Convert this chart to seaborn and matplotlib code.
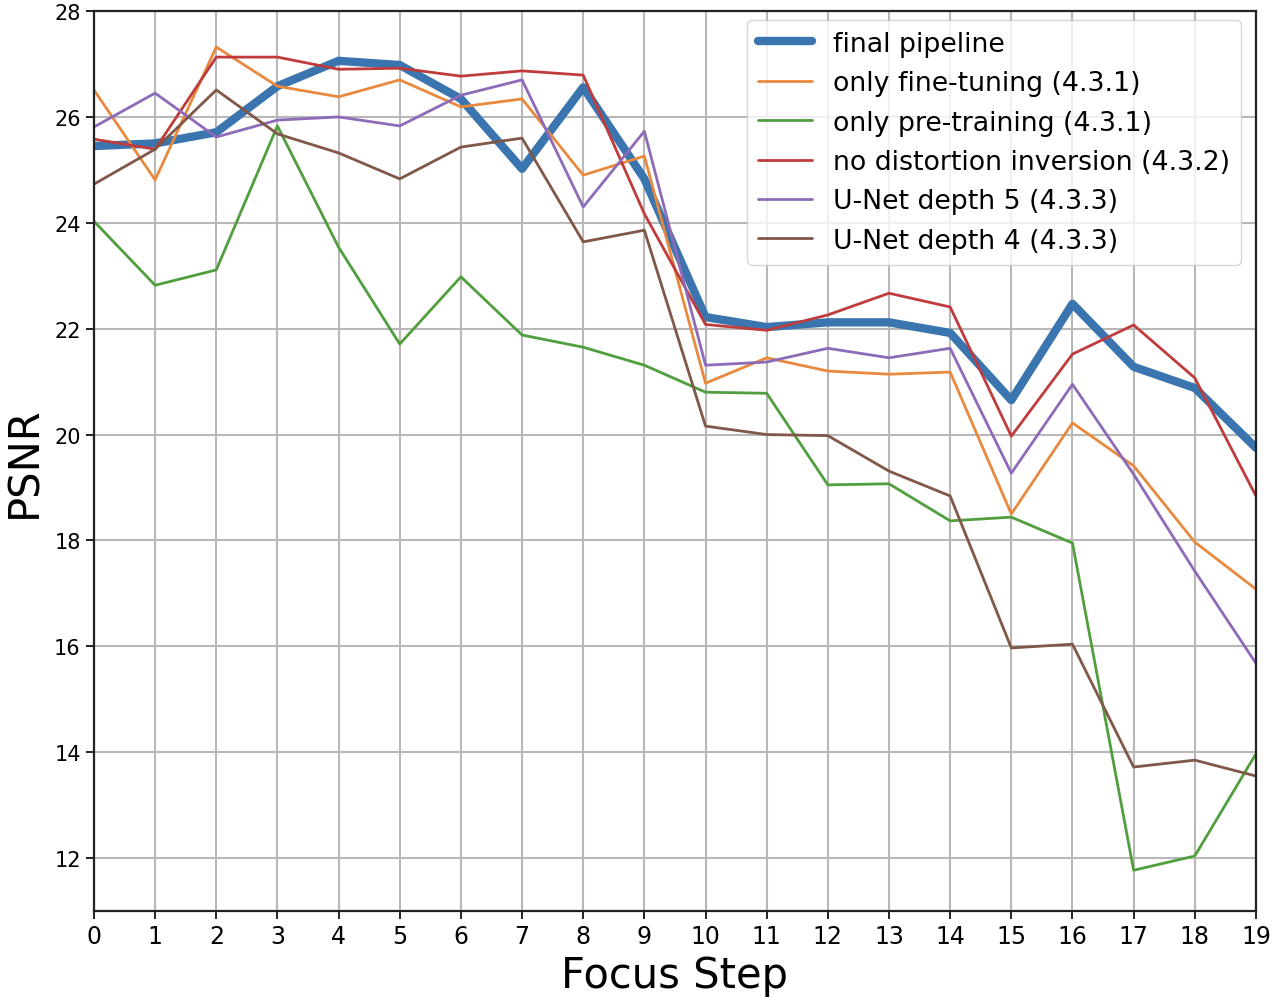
import numpy as np
import pandas as pd
import matplotlib
matplotlib.use("Agg")
import matplotlib.pyplot as plt
import seaborn as sns

steps = list(range(20))

final_pipeline = [25.45, 25.50, 25.71, 26.58, 27.06, 26.98, 26.34, 25.02, 26.56, 24.83,
                  22.22, 22.03, 22.12, 22.12, 21.92, 20.65, 22.47, 21.28, 20.88, 19.75]
only_fine_tuning = [26.51, 24.81, 27.32, 26.58, 26.38, 26.70, 26.19, 26.34, 24.90, 25.26,
                    20.97, 21.45, 21.20, 21.14, 21.18, 18.50, 20.22, 19.41, 17.97, 17.08]
only_pre_training = [24.03, 22.82, 23.11, 25.83, 23.54, 21.71, 22.98, 21.88, 21.65, 21.31,
                     20.80, 20.78, 19.05, 19.07, 18.37, 18.44, 17.95, 11.77, 12.04, 13.97]
no_distortion_inversion = [25.58, 25.39, 27.13, 27.13, 26.90, 26.92, 26.77, 26.87, 26.79, 24.17,
                           22.08, 21.97, 22.26, 22.67, 22.41, 19.97, 21.52, 22.07, 21.07, 18.84]
unet_depth5 = [25.81, 26.45, 25.62, 25.94, 26.00, 25.83, 26.41, 26.70, 24.30, 25.73,
               21.31, 21.37, 21.63, 21.45, 21.63, 19.27, 20.95, 19.25, 17.42, 15.68]
unet_depth4 = [24.73, 25.39, 26.51, 25.68, 25.32, 24.83, 25.43, 25.60, 23.64, 23.86,
               20.16, 20.00, 19.98, 19.31, 18.84, 15.97, 16.04, 13.72, 13.85, 13.55]

labels = ["final pipeline", "only fine-tuning (4.3.1)", "only pre-training (4.3.1)",
          "no distortion inversion (4.3.2)", "U-Net depth 5 (4.3.3)", "U-Net depth 4 (4.3.3)"]
series = [final_pipeline, only_fine_tuning, only_pre_training,
          no_distortion_inversion, unet_depth5, unet_depth4]
colors = ["#3a75af", "#e8893d", "#519e3e", "#c03c3c", "#8d6bb8", "#815749"]
widths = [6, 2, 2, 2, 2, 2]

sns.set_theme(style="ticks")
plt.rcParams['font.family'] = ['DejaVu Sans']
plt.rcParams['text.color'] = 'black'
plt.rcParams['axes.labelcolor'] = 'black'
plt.rcParams['xtick.labelcolor'] = 'black'
plt.rcParams['ytick.labelcolor'] = 'black'

fig = plt.figure(figsize=(12.73, 10.04), dpi=100)
ax = fig.add_axes([0.0738, 0.0916, 0.9128, 0.8964])

for lab, vals, col, lw in zip(labels, series, colors, widths):
    df = pd.DataFrame({"step": steps, "psnr": vals})
    sns.lineplot(data=df, x="step", y="psnr", ax=ax, color=col, linewidth=lw, label=lab)

ax.set_xlim(0, 19)
ax.set_ylim(11, 28)
ax.set_xticks(steps)
ax.set_yticks(list(range(12, 29, 2)))
ax.grid(True, color="#b8b8b8", linewidth=1.5)
ax.set_axisbelow(True)
for s in ax.spines.values():
    s.set_color("#222222")
    s.set_linewidth(1.6)
ax.tick_params(axis="x", labelsize=17, length=6, width=1.4, color="#222222", labelcolor="black")
ax.tick_params(axis="y", labelsize=15, length=6, width=1.4, color="#222222", labelcolor="black")
ax.set_xlabel("Focus Step", fontsize=30, color="black", labelpad=4)
ax.set_ylabel("PSNR", fontsize=30, color="black", labelpad=6)

leg = ax.legend(loc="upper right", bbox_to_anchor=(0.9871, 0.99), borderaxespad=0,
                fontsize=19.3, framealpha=0.8, handlelength=2.0)
for t in leg.get_texts():
    t.set_color("black")

fig.savefig("out.png", dpi=100)
